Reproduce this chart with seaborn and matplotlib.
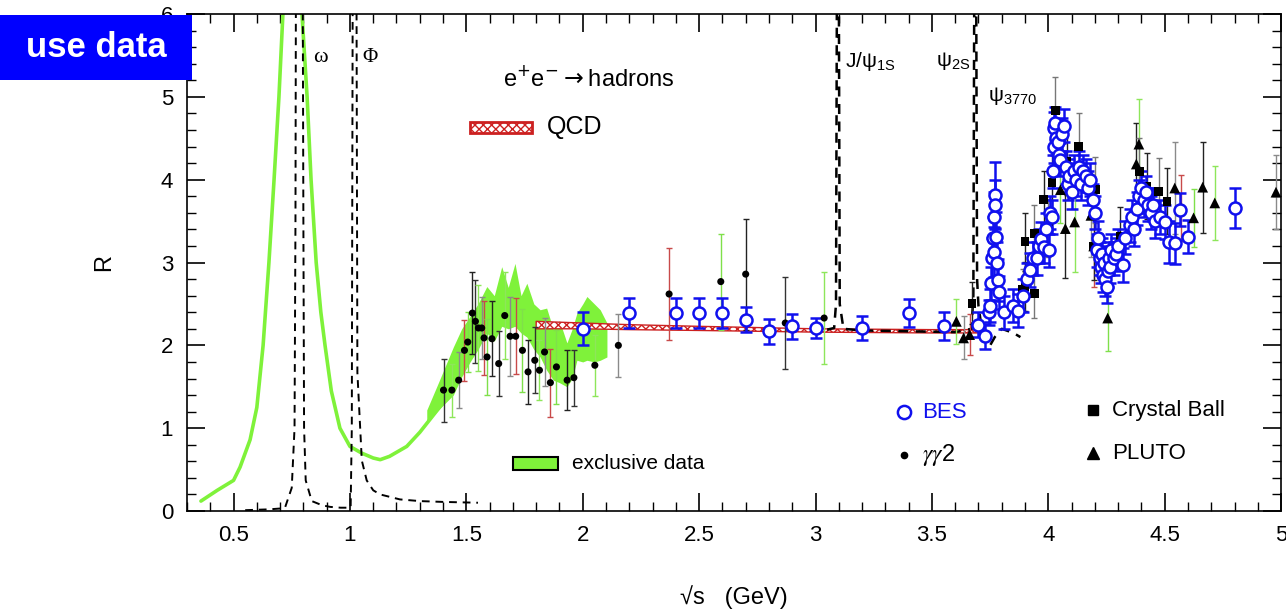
import numpy as np
import pandas as pd
import seaborn as sns
import matplotlib.pyplot as plt
from matplotlib.patches import Rectangle
from matplotlib.ticker import MultipleLocator, FormatStrFormatter

# exclusive data (single curve below 1.4 GeV)
excl_x = [0.36, 0.43, 0.50, 0.528, 0.571, 0.60, 0.627, 0.652, 0.674, 0.695, 0.712, 0.75,
          0.794, 0.816, 0.833, 0.855, 0.875, 0.893, 0.92, 0.957, 1.00, 1.05, 1.10, 1.13,
          1.17, 1.244, 1.30, 1.387, 1.42]
excl_r = [0.12, 0.25, 0.37, 0.53, 0.86, 1.25, 2.00, 3.00, 4.00, 5.00, 6.00, 7.20,
          6.00, 5.00, 4.00, 3.00, 2.40, 2.00, 1.45, 1.00, 0.78, 0.70, 0.64, 0.62,
          0.66, 0.78, 0.95, 1.26, 1.40]

# exclusive data band 1.33 - 2.1 GeV
band_x = [1.33, 1.38, 1.444, 1.48, 1.516, 1.55, 1.588, 1.62, 1.652, 1.68, 1.709, 1.735, 1.76,
          1.79, 1.817, 1.845, 1.874, 1.90, 1.932, 1.955, 1.975, 2.00, 2.018, 2.05, 2.075, 2.104]
band_lo = [1.08, 1.22, 1.40, 1.62, 1.80, 1.95, 2.15, 2.05, 2.23, 2.20, 2.23, 2.15, 2.10,
           1.95, 1.86, 1.70, 1.58, 1.55, 1.50, 1.60, 1.82, 1.80, 1.82, 1.80, 1.82, 1.86]
band_hi = [1.22, 1.55, 1.98, 2.20, 2.35, 2.50, 2.71, 2.60, 2.95, 2.70, 2.99, 2.60, 2.75,
           2.50, 2.43, 2.45, 2.19, 2.30, 2.03, 2.20, 2.39, 2.50, 2.59, 2.50, 2.43, 2.27]

# QCD prediction
qcd_x = [1.8, 2.0, 2.2, 2.5, 3.0, 3.5, 3.72]
qcd_lo = [2.20, 2.20, 2.19, 2.18, 2.16, 2.15, 2.15]
qcd_hi = [2.29, 2.27, 2.25, 2.23, 2.20, 2.19, 2.19]

# narrow resonances (dashed)
light_x = [0.55, 0.65, 0.70, 0.721, 0.75, 0.762, 0.766, 0.768, 0.797, 0.800, 0.803, 0.81, 0.836,
           0.88, 0.915, 0.96, 1.003, 1.008, 1.012, 1.028, 1.032, 1.051, 1.072, 1.10, 1.13,
           1.215, 1.30, 1.40, 1.55]
light_r = [0.01, 0.02, 0.03, 0.04, 0.28, 1.0, 3.5, 6.5, 6.5, 3.5, 1.0, 0.37, 0.12,
           0.07, 0.05, 0.04, 0.04, 1.0, 6.5, 6.5, 1.67, 0.61, 0.37, 0.25, 0.20,
           0.14, 0.12, 0.11, 0.10]
charm_x = [3.05, 3.08, 3.088, 3.092, 3.100, 3.104, 3.12, 3.20, 3.40, 3.60, 3.670, 3.678, 3.682,
           3.690, 3.694, 3.70, 3.72, 3.75, 3.77, 3.80, 3.85, 3.88]
charm_r = [2.19, 2.21, 2.5, 6.5, 6.5, 2.5, 2.2, 2.18, 2.17, 2.16, 2.2, 2.6, 6.5,
           6.5, 2.8, 2.47, 2.1, 2.0, 2.1, 2.2, 2.15, 2.1]

# BES
bes_x = [2.0, 2.2, 2.4, 2.5, 2.6, 2.7, 2.8, 2.9, 3.0, 3.2, 3.4, 3.55, 3.70, 3.729,
         3.745, 3.751, 3.755, 3.760, 3.763, 3.766, 3.768, 3.770, 3.773, 3.776, 3.779, 3.783,
         3.790, 3.808, 3.848, 3.870, 3.890, 3.91, 3.923, 3.935, 3.951, 3.96, 3.967, 3.980,
         3.99, 4.001, 4.008, 4.016, 4.020, 4.023, 4.026, 4.030, 4.034, 4.040, 4.045, 4.052,
         4.060, 4.066, 4.075, 4.085, 4.09, 4.10, 4.11, 4.12, 4.13, 4.14, 4.15, 4.16, 4.17,
         4.18, 4.19, 4.20, 4.21, 4.215, 4.22, 4.225, 4.23, 4.235, 4.24, 4.245, 4.25, 4.255,
         4.26, 4.265, 4.27, 4.28, 4.29, 4.30, 4.32, 4.33, 4.35, 4.36, 4.37, 4.38, 4.39,
         4.40, 4.41, 4.42, 4.43, 4.44, 4.45, 4.46, 4.48, 4.50, 4.52, 4.545, 4.565, 4.60, 4.80]
bes_r = [2.20, 2.39, 2.39, 2.39, 2.39, 2.31, 2.17, 2.23, 2.21, 2.21, 2.39, 2.23, 2.25, 2.11,
         2.40, 2.48, 2.75, 3.05, 3.30, 3.55, 3.13, 3.82, 3.70, 3.31, 3.00, 2.79,
         2.64, 2.40, 2.48, 2.42, 2.60, 2.80, 2.91, 3.05, 3.05, 3.20, 3.29, 3.19,
         3.40, 3.15, 3.60, 3.55, 4.10, 4.40, 4.62, 4.68, 4.50, 4.45, 4.30, 4.24,
         4.55, 4.65, 4.15, 3.95, 4.05, 3.85, 4.10, 4.00, 4.15, 3.95, 4.10, 4.05, 3.90,
         4.00, 3.75, 3.60, 3.15, 3.30, 3.05, 2.95, 3.10, 2.85, 3.00, 2.80, 2.71, 2.90,
         3.05, 2.95, 3.15, 3.05, 3.10, 3.20, 2.97, 3.30, 3.45, 3.55, 3.40, 3.65, 3.80,
         3.90, 3.75, 3.85, 3.70, 3.60, 3.70, 3.50, 3.55, 3.49, 3.25, 3.23, 3.64, 3.31, 3.66]
bes_err = [0.20, 0.18, 0.18, 0.18, 0.18, 0.15, 0.15, 0.15, 0.12, 0.15, 0.17, 0.17, 0.15, 0.15,
           0.15, 0.20, 0.20, 0.25, 0.25, 0.30, 0.30, 0.40, 0.30, 0.30, 0.25, 0.25,
           0.20, 0.20, 0.20, 0.20, 0.20, 0.20, 0.20, 0.20, 0.20, 0.20, 0.20, 0.20,
           0.20, 0.20, 0.20, 0.20, 0.20, 0.20, 0.20, 0.20, 0.20, 0.20, 0.20, 0.20,
           0.20, 0.20, 0.20, 0.20, 0.20, 0.20, 0.20, 0.20, 0.20, 0.20, 0.20, 0.20, 0.20,
           0.20, 0.20, 0.20, 0.20, 0.20, 0.20, 0.20, 0.20, 0.20, 0.20, 0.20, 0.20, 0.20,
           0.20, 0.20, 0.20, 0.20, 0.20, 0.20, 0.20, 0.20, 0.20, 0.20, 0.20, 0.20, 0.20,
           0.20, 0.20, 0.20, 0.20, 0.20, 0.20, 0.20, 0.20, 0.20, 0.25, 0.25, 0.20, 0.20, 0.24]

# gamma gamma 2
gg2_x = [1.402, 1.438, 1.467, 1.492, 1.506, 1.526, 1.539, 1.552, 1.566, 1.576, 1.589, 1.610,
         1.639, 1.665, 1.688, 1.712, 1.741, 1.765, 1.794, 1.814, 1.836, 1.861, 1.887, 1.933,
         1.962, 2.052, 2.153, 2.371, 2.593, 2.700, 2.870, 3.037]
gg2_r = [1.46, 1.46, 1.58, 1.94, 2.04, 2.39, 2.29, 2.21, 2.21, 2.09, 1.86, 2.08,
         1.78, 2.36, 2.11, 2.11, 1.94, 1.68, 1.82, 1.70, 1.92, 1.55, 1.74, 1.58,
         1.61, 1.76, 2.00, 2.62, 2.77, 2.86, 2.27, 2.33]
gg2_err = [0.38, 0.32, 0.34, 0.37, 0.36, 0.50, 0.50, 0.52, 0.38, 0.45, 0.46, 0.45,
           0.39, 0.52, 0.48, 0.46, 0.50, 0.39, 0.40, 0.36, 0.41, 0.41, 0.45, 0.36,
           0.34, 0.37, 0.38, 0.55, 0.58, 0.67, 0.55, 0.55]

# Crystal Ball
cb_x = [3.672, 3.89, 3.90, 3.94, 3.90, 3.94, 3.98, 4.00, 4.016, 4.03, 4.08, 4.13, 4.195,
        4.202, 4.31, 4.39, 4.424, 4.474, 4.51]
cb_r = [2.51, 2.67, 2.71, 2.63, 3.25, 3.35, 3.76, 3.42, 3.97, 4.84, 4.22, 4.40, 3.19,
        3.88, 3.32, 4.10, 3.92, 3.86, 3.74]
cb_err = [0.25, 0.25, 0.30, 0.30, 0.35, 0.35, 0.35, 0.35, 0.40, 0.40, 0.40, 0.40, 0.40,
          0.40, 0.35, 0.40, 0.40, 0.40, 0.40]

# PLUTO
pluto_x = [3.605, 3.636, 3.662, 4.052, 4.073, 4.113, 4.183, 4.195, 4.255, 4.378, 4.389,
           4.543, 4.570, 4.624, 4.663, 4.715, 4.978]
pluto_r = [2.29, 2.09, 2.13, 3.88, 3.41, 3.49, 3.57, 3.20, 2.33, 4.19, 4.43,
           3.90, 3.66, 3.54, 3.91, 3.72, 3.85]
pluto_err = [0.27, 0.26, 0.25, 0.40, 0.60, 0.60, 0.50, 0.50, 0.40, 0.50, 0.55,
             0.55, 0.40, 0.35, 0.55, 0.45, 0.45]

bar_colors = ['#333333', '#8ee65a', '#8a8a8a', '#c84a4a', '#7fe04a', '#222222']
green = '#7ff23a'
blue = '#1010ee'

sns.set_theme(style='ticks')
plt.rcParams['font.family'] = ['Liberation Sans', 'DejaVu Sans']
plt.rcParams['mathtext.fontset'] = 'custom'
plt.rcParams['mathtext.rm'] = 'Liberation Sans'
plt.rcParams['mathtext.it'] = 'Liberation Sans:italic'
plt.rcParams['text.color'] = 'black'
plt.rcParams['axes.labelcolor'] = 'black'
plt.rcParams['xtick.color'] = 'black'
plt.rcParams['ytick.color'] = 'black'

fig = plt.figure(figsize=(12.86, 6.12), dpi=100)
ax = fig.add_axes([0.1454, 0.165, 0.8508, 0.812])

# exclusive data
sns.lineplot(x=excl_x, y=excl_r, sort=False, estimator=None, color=green, lw=2.6, ax=ax, zorder=2)
ax.fill_between(band_x, band_lo, band_hi, color=green, lw=0, zorder=2)

# QCD band
ax.fill_between(qcd_x, qcd_lo, qcd_hi, facecolor='white', edgecolor='#cc2020', hatch='xxxx',
                lw=1.0, zorder=3)

# resonances
sns.lineplot(x=light_x, y=light_r, sort=False, estimator=None, color='black', lw=1.4,
             ax=ax, zorder=4).lines[-1].set_dashes([4, 3])
sns.lineplot(x=charm_x, y=charm_r, sort=False, estimator=None, color='black', lw=1.8,
             ax=ax, zorder=4).lines[-1].set_dashes([4, 3])

# error bars
def draw_bars(xs, ys, errs, lw=1.0, cap=2.5, colors=None, color=None):
    for i, (x, y, e) in enumerate(zip(xs, ys, errs)):
        c = color if color is not None else colors[i % len(colors)]
        ax.errorbar(x, y, yerr=e, fmt='none', ecolor=c, elinewidth=lw, capsize=cap,
                    capthick=lw, zorder=5)

draw_bars(gg2_x, gg2_r, gg2_err, colors=bar_colors)
draw_bars(pluto_x, pluto_r, pluto_err, colors=bar_colors[1:])
draw_bars(cb_x, cb_r, cb_err, colors=['#222222', '#777777'])
draw_bars(bes_x, bes_r, bes_err, lw=1.8, cap=4, color=blue)

sns.scatterplot(x=gg2_x, y=gg2_r, color='black', s=26, edgecolor='none', ax=ax, zorder=6)
sns.scatterplot(x=cb_x, y=cb_r, color='black', marker='s', s=40, edgecolor='none', ax=ax, zorder=6)
sns.scatterplot(x=pluto_x, y=pluto_r, color='black', marker='^', s=60, edgecolor='none', ax=ax, zorder=6)
ax.scatter(bes_x, bes_r, facecolors='white', edgecolors=blue, s=75, linewidths=1.8, zorder=7)

# axes
ax.set_xlim(0.3, 5.0)
ax.set_ylim(0, 6)
ax.xaxis.set_major_locator(MultipleLocator(0.5))
ax.xaxis.set_minor_locator(MultipleLocator(0.1))
ax.yaxis.set_major_locator(MultipleLocator(1))
ax.yaxis.set_minor_locator(MultipleLocator(0.2))
ax.xaxis.set_major_formatter(FormatStrFormatter('%g'))
ax.yaxis.set_major_formatter(FormatStrFormatter('%g'))
ax.tick_params(which='major', direction='in', length=13, width=1.2, top=True, right=True,
               labelsize=16, pad=10, colors='black')
ax.tick_params(which='minor', direction='in', length=6.5, width=1.0, top=True, right=True)
for s in ax.spines.values():
    s.set_color('black')
    s.set_linewidth(1.2)
ax.set_xlabel('√s   (GeV)', fontsize=17)
ax.set_ylabel('R', fontsize=17)
ax.xaxis.set_label_coords(0.5, -0.15)
ax.yaxis.set_label_coords(-0.066, 0.5)

# labels and legend keys
tr = ax.transAxes
ax.text(0.1152, 0.9135, 'ω', family='Liberation Serif', fontsize=16, va='center', transform=tr)
ax.text(0.160, 0.9135, 'Φ', family='Liberation Serif', fontsize=15, va='center', transform=tr)
ax.text(0.6015, 0.905, 'J/ψ$_{\\mathrm{1S}}$', fontsize=15, va='center', transform=tr)
ax.text(0.6846, 0.905, 'ψ$_{\\mathrm{2S}}$', fontsize=15, va='center', transform=tr)
ax.text(0.7322, 0.835, 'ψ$_{\\mathrm{3770}}$', fontsize=15, va='center', transform=tr)
ax.text(0.2888, 0.8712, 'e$^{+}$e$^{-}$$\\rightarrow$hadrons', fontsize=17, va='center',
        math_fontfamily='dejavusans', transform=tr)

ax.add_patch(Rectangle((0.2587, 0.7606), 0.0567, 0.0221, transform=tr, facecolor='white',
                       edgecolor='#cc2020', hatch='xxxx', lw=2, zorder=8))
ax.text(0.329, 0.7726, 'QCD', fontsize=18, va='center', transform=tr)
ax.add_patch(Rectangle((0.298, 0.0825), 0.041, 0.0262, transform=tr, facecolor=green,
                       edgecolor='black', lw=1.5, zorder=8))
ax.text(0.352, 0.0966, 'exclusive data', fontsize=15, va='center', transform=tr)

ax.plot([0.6554], [0.1992], 'o', mfc='white', mec=blue, ms=9.5, mew=1.8, transform=tr)
ax.text(0.6718, 0.1992, 'BES', color=blue, fontsize=16, va='center', transform=tr)
ax.plot([0.6554], [0.1127], 'o', color='black', ms=4.5, transform=tr)
ax.text(0.6718, 0.1127, '$\\gamma\\gamma$2', fontsize=17, va='center', math_fontfamily='stix',
        transform=tr)
ax.plot([0.8282], [0.2032], 's', color='black', ms=7, transform=tr)
ax.text(0.8455, 0.2032, 'Crystal Ball', fontsize=16, va='center', transform=tr)
ax.plot([0.8282], [0.1167], '^', color='black', ms=8, transform=tr)
ax.text(0.8455, 0.1167, 'PLUTO', fontsize=16, va='center', transform=tr)

# "use data" tag
fig.patches.append(Rectangle((0, 0.8693), 0.1493, 0.1062, transform=fig.transFigure,
                             facecolor='#0000ff', edgecolor='none', zorder=10))
fig.text(0.0747, 0.9216, 'use data', color='white', fontsize=25, fontweight='bold',
         ha='center', va='center', zorder=11)

fig.savefig('out.png', dpi=100)
